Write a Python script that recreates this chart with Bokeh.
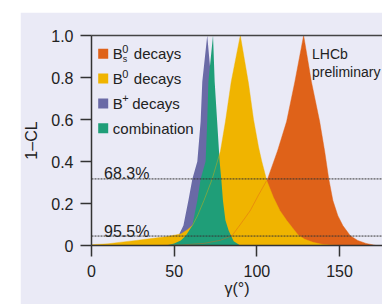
from bokeh.plotting import figure
from bokeh.models import Span, LinearAxis, FixedTicker, Range1d, Spacer
from bokeh.layouts import column, row
from bokeh.embed import file_html
from bokeh.resources import INLINE
from bokeh.core.properties import value

# ---------------- data ----------------
bs_gamma = [40, 55, 68, 78, 85, 90, 96, 101, 106.5, 112.5, 118, 123, 128.3,
            133, 138, 141, 143.5, 146, 149, 152, 156.5, 161, 166, 172]
bs_cl = [0.0, 0.003, 0.01, 0.025, 0.047, 0.1, 0.166, 0.24, 0.317, 0.45, 0.59, 0.78, 1.0,
         0.78, 0.59, 0.45, 0.317, 0.214, 0.142, 0.095, 0.047, 0.024, 0.01, 0.0]

b0_gamma = [0, 10, 18, 27, 36, 45, 54, 58, 61, 64, 68, 73, 78, 81, 84.5, 90,
            95, 98, 101, 103, 106, 110, 114, 118, 121.5, 125, 129, 134, 140, 150]
b0_cl = [0.004, 0.008, 0.016, 0.024, 0.033, 0.042, 0.055, 0.075, 0.095, 0.14, 0.214, 0.317,
         0.45, 0.59, 0.78, 1.0, 0.77, 0.6, 0.47, 0.4, 0.31, 0.23, 0.166, 0.12, 0.085,
         0.05, 0.03, 0.015, 0.005, 0.0]

bp_gamma = [35, 42, 48, 52.6, 55.6, 58.6, 61, 64, 66, 67, 70,
            72.5, 74.5, 76, 78, 79, 81, 84, 88, 95]
bp_cl = [0.0, 0.008, 0.024, 0.047, 0.095, 0.214, 0.317, 0.40, 0.59, 0.78, 1.0,
         0.78, 0.59, 0.42, 0.3, 0.2, 0.1, 0.05, 0.015, 0.0]

comb_gamma = [45, 50, 54, 57, 61, 64, 66, 69, 70, 70.7, 73.5,
              74.5, 76, 77.5, 78.5, 79.5, 81, 83, 86, 90]
comb_cl = [0.0, 0.01, 0.024, 0.047, 0.095, 0.214, 0.317, 0.40, 0.59, 0.78, 1.0,
           0.78, 0.59, 0.40, 0.317, 0.214, 0.12, 0.07, 0.02, 0.0]

cl_levels = [0.317, 0.045]
cl_labels = ["68.3%", "95.5%"]

x_ticks = [0, 50, 100, 150]
y_ticks = [0, 0.2, 0.4, 0.6, 0.8, 1.0]
y_tick_labels = ["0", "0.2", "0.4", "0.6", "0.8", "1.0"]

# ---------------- style ----------------
BG = "#eaeaf6"
FONT = "Liberation Sans"
TXT = "#222222"
C_BS = "#df6219"
C_B0 = "#f0b400"
C_BP = "#6a6aa6"
C_CB = "#1f9e78"

X_END = 176.0
FW, FH = 291.0, 210.0


def dx(px):  # pixels from frame left -> data x
    return px * X_END / FW


def dy(py):  # pixels from frame top -> data y
    return 1.0 - py / FH


p = figure(width=362, height=292, x_range=Range1d(0, X_END), y_range=Range1d(0, 1.0),
           output_backend="svg", toolbar_location=None,
           min_border_left=71, min_border_right=0, min_border_top=23, min_border_bottom=59,
           background_fill_color=BG, border_fill_color=BG, outline_line_color=None)
p.grid.visible = False

# filled 1-CL curves (back to front)
p.varea(x=bs_gamma, y1=0, y2=bs_cl, fill_color=C_BS)
p.varea(x=bp_gamma, y1=0, y2=bp_cl, fill_color=C_BP)
p.varea(x=b0_gamma, y1=0, y2=b0_cl, fill_color=C_B0)
p.varea(x=comb_gamma, y1=0, y2=comb_cl, fill_color=C_CB)
# faint outlines visible through the overlapping fills
p.line(x=bs_gamma, y=bs_cl, line_color=C_BS, line_alpha=0.45, line_width=1)
p.line(x=b0_gamma, y=b0_cl, line_color=C_B0, line_alpha=0.4, line_width=1)

# confidence-level lines and their labels
for lvl, lab in zip(cl_levels, cl_labels):
    p.add_layout(Span(location=lvl, dimension="width", line_color="#333333",
                      line_width=1, line_dash="2 1"))
    p.text(x=[dx(12.5)], y=[lvl], text=[lab], y_offset=-5,
           text_font=value(FONT), text_font_size="16px", text_color=TXT,
           text_baseline="alphabetic", text_align="left")

# LHCb preliminary
p.text(x=[dx(220.5)], y=[dy(18.5)], text=["LHCb"], text_font=value(FONT),
       text_font_size="14px", text_color=TXT, text_baseline="alphabetic")
p.text(x=[dx(220.5)], y=[dy(36)], text=["preliminary"], text_font=value(FONT),
       text_font_size="14px", text_color=TXT, text_baseline="alphabetic")

# legend (drawn by hand to get the sub/superscripts)
leg_colors = [C_BS, C_B0, C_BP, C_CB]
leg_rows = [18.3, 43.1, 67.9, 92.7]
for c, r in zip(leg_colors, leg_rows):
    p.rect(x=[dx(11.7)], y=[dy(r)], width=10, height=10, width_units="screen",
           height_units="screen", fill_color=c, line_color=None)


def t(xpx, rpx, s, size="15px", yoff=0):
    p.text(x=[dx(xpx)], y=[dy(rpx)], text=[s], y_offset=yoff, text_font=value(FONT),
           text_font_size=size, text_color=TXT, text_baseline="middle", text_align="left")


t(21.3, leg_rows[0], "B")
t(30.7, leg_rows[0], "0", "11px", -5)
t(31.2, leg_rows[0], "s", "9px", 5)
t(42.3, leg_rows[0], "decays")
t(21.3, leg_rows[1], "B")
t(30.7, leg_rows[1], "0", "11px", -5)
t(42.3, leg_rows[1], "decays")
t(21.3, leg_rows[2], "B")
t(30.7, leg_rows[2], "+", "11px", -5)
t(40.7, leg_rows[2], "decays")
t(21.3, leg_rows[3], "combination")

# axes
p.xaxis.ticker = FixedTicker(ticks=x_ticks)
p.yaxis.ticker = FixedTicker(ticks=y_ticks)
p.yaxis.major_label_overrides = {v: l for v, l in zip(y_ticks, y_tick_labels)}
p.xaxis.axis_label = "γ(°)"
p.yaxis.axis_label = "1–CL"
for ax in (p.xaxis[0], p.yaxis[0]):
    ax.axis_line_color = "#333333"
    ax.axis_line_width = 1.5
    ax.major_tick_line_color = "#333333"
    ax.major_tick_line_width = 1.5
    ax.major_tick_out = 11
    ax.major_tick_in = 0
    ax.minor_tick_line_color = None
    ax.major_label_text_font = FONT
    ax.major_label_text_font_size = "16px"
    ax.major_label_text_color = TXT
    ax.axis_label_text_font = FONT
    ax.axis_label_text_font_size = "16px"
    ax.axis_label_text_font_style = "normal"
    ax.axis_label_text_color = TXT
p.xaxis.major_label_standoff = 8
p.xaxis.axis_label_standoff = 0
p.yaxis.major_label_standoff = 7
p.yaxis.axis_label_standoff = 8

top = LinearAxis(ticker=FixedTicker(ticks=[]), axis_line_color="#444444", axis_line_width=1.5,
                 major_tick_line_color=None, minor_tick_line_color=None,
                 major_label_text_font_size="0px")
p.add_layout(top, "above")

layout = column(Spacer(height=12), row(Spacer(width=20), p))

open("out.html", "w").write(file_html(layout, INLINE))
